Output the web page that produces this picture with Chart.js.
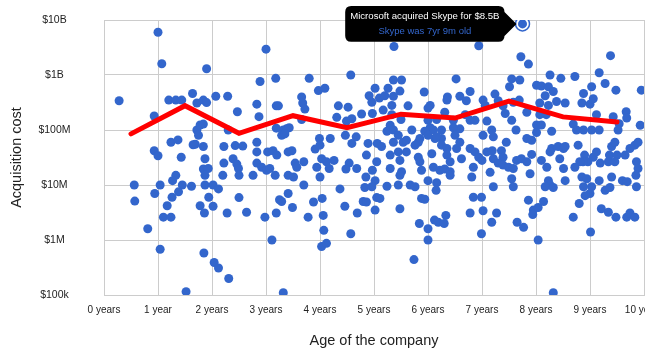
<!DOCTYPE html>
<html>
<head>
<meta charset="utf-8">
<title>Acquisition cost vs age of the company</title>
<script src="https://cdn.jsdelivr.net/npm/chart.js@4/dist/chart.umd.min.js"></script>
<style>
    html, body { margin: 0; padding: 0; background: #fff; }
    #wrap { width: 654px; height: 352px; }
    #chart { display: block; }
</style>
</head>
<body>
<div id="wrap"><canvas id="chart" width="645" height="352"></canvas></div>
<script>
// Acquisitions: age of the company (years) and price ($M), grouped by age band
const agesBand1 = [1.00, 1.07, 0.28, 1.20, 1.33, 1.44, 1.64, 0.93, 1.24, 1.37, 1.65, 0.93, 1.00, 1.43, 1.33, 1.27, 1.45, 1.62, 0.56, 1.04, 0.57, 0.94, 1.38, 1.26, 1.17, 1.10, 1.24, 0.81, 1.04, 1.52];
const costsBand1 = [6000, 1600, 340, 350, 350, 350, 460, 180, 60, 66, 54, 42, 34, 32, 15, 12, 10, 9.5, 10, 10, 5.1, 7, 7.5, 6, 4.2, 2.6, 2.6, 1.6, 0.68, 0.115];

const agesBand2 = [3.00, 1.90, 2.89, 3.18, 1.72, 1.84, 1.90, 2.07, 2.29, 2.47, 2.83, 2.87, 3.19, 3.23, 1.72, 1.78, 1.84, 1.75, 1.69, 1.84, 1.87, 1.84, 1.93, 1.87, 2.30, 2.22, 2.43, 2.57, 2.83, 2.83, 2.39, 2.46, 2.49, 2.50, 2.22, 2.20, 2.76, 2.83, 2.92, 3.01, 3.07, 3.17, 3.03, 3.13, 3.20, 1.87, 2.02, 2.12, 1.94, 1.78, 1.86, 2.02, 2.28, 2.50, 2.64, 2.98, 3.19, 3.25, 3.29, 3.11, 1.85, 2.04, 2.12, 2.31, 3.32, 3.19];
const costsBand2 = [2950, 1300, 760, 870, 310, 350, 315, 410, 410, 215, 295, 175, 275, 275, 100, 123, 128, 80, 55, 50, 30, 19.5, 20, 15, 100, 50, 52, 51, 60, 40, 30, 24, 20, 15, 25, 15, 15, 25, 21, 18.5, 20, 15, 40, 42, 35, 10, 10, 8.5, 6, 4.2, 3.1, 4.1, 3.1, 5.9, 3.2, 2.6, 3.1, 5.4, 5, 1.0, 0.58, 0.39, 0.31, 0.2, 0.11, 108];

const agesBand3 = [4.57, 3.80, 3.97, 4.09, 3.66, 3.68, 3.72, 3.66, 4.34, 4.52, 4.31, 4.49, 4.59, 4.77, 4.91, 4.96, 5.02, 4.97, 3.32, 3.38, 3.43, 3.29, 3.35, 3.41, 3.48, 3.54, 3.57, 3.70, 3.41, 3.51, 3.70, 3.41, 3.49, 3.78, 3.88, 4.04, 4.06, 4.07, 4.03, 4.12, 3.99, 3.91, 4.00, 3.94, 4.00, 4.03, 4.12, 4.17, 4.26, 4.19, 4.47, 4.59, 4.67, 4.54, 4.48, 4.68, 4.37, 4.46, 4.69, 4.57, 4.89, 4.86, 4.85, 4.83, 4.80, 4.86, 4.97, 5.02];
const costsBand3 = [1000, 870, 520, 575, 400, 310, 240, 155, 275, 260, 170, 145, 160, 195, 420, 320, 575, 200, 100, 105, 110, 80, 85, 40, 42, 25, 21, 26.5, 15, 14, 10, 7, 3.9, 2.6, 4.9, 5.7, 2.8, 1.5, 0.76, 0.87, 70, 45, 53, 21, 14, 30, 26.5, 20, 28, 70, 80, 57, 75, 25, 19.5, 20, 8.5, 4.1, 3.1, 1.3, 57, 35, 14, 9, 5, 4.9, 18.5, 3.5];

const agesBand4 = [5.37, 5.36, 5.51, 5.26, 5.48, 6.52, 5.93, 6.36, 6.35, 6.59, 6.04, 6.00, 5.63, 5.10, 5.20, 5.36, 5.33, 5.17, 5.33, 5.50, 6.16, 6.31, 6.47, 6.59, 6.47, 6.00, 6.04, 6.10, 5.94, 6.25, 6.25, 5.30, 5.24, 5.36, 5.70, 5.85, 5.82, 6.00, 6.13, 6.16, 5.06, 5.14, 5.36, 5.45, 5.54, 5.60, 5.76, 6.25, 6.35, 6.53, 6.59, 6.50, 5.30, 5.45, 5.60, 5.82, 5.85, 6.07, 6.35, 6.41, 5.48, 5.05, 5.30, 5.51, 5.48, 5.88, 6.10, 6.22, 6.31, 6.41, 6.41, 5.02, 4.96, 5.24, 5.45, 5.67, 5.76, 6.00, 6.16, 6.15, 5.88, 5.94, 5.05, 5.11, 5.48, 5.84, 6.12, 6.19, 6.30, 6.33, 6.00, 6.00, 5.74];
const costsBand4 = [3300, 810, 810, 575, 510, 850, 490, 400, 350, 410, 280, 250, 275, 380, 420, 410, 280, 230, 190, 155, 155, 210, 150, 105, 110, 150, 110, 100, 95, 100, 70, 122, 95, 100, 100, 70, 60, 80, 70, 75, 57, 50, 60, 80, 60, 65, 53, 53, 46, 46, 60, 80, 35, 40, 40, 32, 26.5, 37, 35, 26.5, 28, 26.5, 20, 17.5, 15, 18.5, 21, 18.5, 19.5, 17.5, 15, 12, 9.3, 9.5, 10, 10, 9.3, 12, 11, 8, 5.7, 5.5, 5.9, 5.7, 3.7, 2.0, 2.3, 2.1, 2.0, 2.8, 1.6, 1.0, 0.44];

const agesBand5 = [7.75, 6.94, 7.72, 7.86, 8.26, 7.55, 7.70, 7.51, 8.01, 8.10, 8.23, 8.17, 8.32, 6.78, 7.24, 6.71, 7.02, 7.06, 7.30, 7.39, 7.43, 7.58, 7.69, 7.83, 8.07, 8.23, 8.19, 8.07, 6.69, 6.78, 6.87, 7.09, 7.55, 7.63, 8.01, 8.10, 8.29, 8.01, 7.02, 7.18, 7.21, 7.45, 7.83, 7.92, 6.78, 6.87, 6.94, 7.00, 7.09, 7.19, 7.21, 7.36, 7.39, 7.30, 7.39, 7.49, 7.58, 7.64, 7.73, 7.83, 7.92, 7.89, 7.55, 7.58, 8.10, 8.20, 8.29, 8.26, 6.62, 6.84, 6.81, 7.15, 7.21, 8.23, 8.26, 8.17, 8.32, 6.84, 6.99, 6.78, 7.02, 7.27, 7.18, 7.86, 7.95, 8.04, 7.94, 8.14, 7.65, 7.77, 6.99, 8.04, 8.32];
const costsBand5 = [8500, 3400, 2150, 1580, 1000, 850, 810, 610, 650, 630, 610, 420, 500, 500, 450, 340, 350, 280, 340, 275, 200, 320, 350, 210, 310, 280, 190, 190, 190, 150, 150, 145, 150, 100, 123, 123, 95, 90, 80, 100, 75, 60, 70, 65, 46, 40, 32, 28, 40, 42, 30, 42, 32, 25, 23, 21, 20, 28, 30, 26.5, 36, 16, 13, 9.3, 28, 21, 46, 40, 30, 21, 14, 17, 9.3, 12, 10, 9.3, 9, 6, 6, 3.1, 3.4, 3.1, 2.1, 5.3, 3.5, 3.9, 2.9, 5, 2.1, 1.7, 1.3, 1.0, 0.11];

const agesBand6 = [9.38, 9.17, 9.28, 8.46, 8.72, 9.95, 9.48, 9.03, 8.88, 8.38, 8.54, 8.85, 9.00, 9.06, 9.67, 9.68, 9.43, 9.12, 9.93, 9.54, 9.52, 8.69, 8.75, 8.88, 9.03, 9.17, 8.41, 8.51, 8.54, 8.44, 8.78, 9.40, 9.46, 9.36, 9.50, 9.65, 9.74, 9.83, 9.89, 8.90, 8.96, 9.06, 9.12, 8.87, 9.19, 8.81, 9.34, 9.46, 9.86, 9.89, 8.72, 8.51, 8.54, 8.85, 8.94, 8.88, 9.03, 9.00, 8.91, 9.17, 9.28, 9.37, 9.40, 9.60, 9.69, 9.85, 9.86, 8.80, 8.69, 9.21, 9.34, 9.48, 9.68, 9.74, 9.83, 9.01];
const costsBand6 = [2250, 1100, 700, 870, 940, 530, 530, 610, 460, 330, 310, 310, 295, 370, 215, 165, 175, 190, 122, 130, 100, 128, 100, 100, 100, 100, 50, 46, 50, 30, 53, 50, 60, 35, 35, 35, 46, 53, 60, 35, 26.5, 32, 40, 26.5, 25, 26.5, 26.5, 26.5, 26.5, 20, 21, 20, 12, 14, 13, 9.3, 9.3, 7, 6.4, 12, 8, 9, 14, 12, 11.5, 15, 9.3, 4.6, 2.6, 3.7, 3.2, 2.6, 2.6, 3.1, 2.6, 1.4];

// Average price per half-year bucket ($M)
const trendAges = [0.5, 1.5, 2.5, 3.5, 4.5, 5.5, 6.5, 7.5, 8.5, 9.5];
const trendCosts = [85, 277, 87, 182, 110, 194, 165, 335, 173, 140];

// Axis ticks
const yTickValues = [1e5, 1e6, 1e7, 1e8, 1e9, 1e10];
const yTickLabels = ['$100k', '$1M', '$10M', '$100M', '$1B', '$10B'];
const xTickLabels = ['0 years', '1 year', '2 years', '3 years', '4 years', '5 years', '6 years', '7 years', '8 years', '9 years', '10 years'];

// Highlighted deal
const highlightAge = 7.75;
const highlightCost = 8500;
const highlightTitle = 'Microsoft acquired Skype for $8.5B';
const highlightLabel = 'Skype was 7yr 9m old';

const FONT = 'Arial, "Liberation Sans", sans-serif';
const BLUE = '#3366cc';
const GRID = '#cccccc';
const TEXT = '#222222';

// Build {x, y} points in dollars
function toPoints(ages, costs) {
    return ages.map((a, i) => ({ x: a, y: costs[i] * 1e6 }));
}

const allAges = [].concat(agesBand1, agesBand2, agesBand3, agesBand4, agesBand5, agesBand6);
const allCosts = [].concat(costsBand1, costsBand2, costsBand3, costsBand4, costsBand5, costsBand6);

Chart.defaults.font.family = FONT;
Chart.defaults.color = TEXT;

const ctx = document.getElementById('chart');
const chart = new Chart(ctx.getContext('2d'), {
    type: 'scatter',
    data: {
        datasets: [{
            type: 'line',
            label: 'Average',
            data: toPoints(trendAges, trendCosts),
            borderColor: '#ff0000',
            borderWidth: 5,
            borderCapStyle: 'round',
            borderJoinStyle: 'miter',
            pointRadius: 0,
            fill: false,
            tension: 0,
            order: 0
        }, {
            label: 'Acquisitions',
            data: toPoints(allAges, allCosts),
            backgroundColor: BLUE,
            borderWidth: 0,
            pointRadius: 4.5,
            order: 1
        }, {
            label: 'Highlight',
            data: [{ x: highlightAge, y: highlightCost * 1e6 }],
            backgroundColor: '#ffffff',
            borderColor: BLUE,
            borderWidth: 1.5,
            pointRadius: 7,
            order: 2
        }]
    },
    options: {
        responsive: false,
        animation: false,
        events: [],
        layout: {
            autoPadding: false,
            padding: { left: 0, right: 1, top: 20, bottom: 0 }
        },
        plugins: {
            legend: { display: false },
            tooltip: {
                enabled: true,
                xAlign: 'right',
                yAlign: 'center',
                backgroundColor: '#000000',
                cornerRadius: 6,
                caretSize: 12,
                caretPadding: 6,
                padding: { top: 5, bottom: 5, left: 5, right: 5 },
                titleFont: { family: FONT, size: 9.6, weight: 'normal' },
                titleColor: '#ffffff',
                titleAlign: 'center',
                titleMarginBottom: 3,
                bodyFont: { family: FONT, size: 9.5 },
                bodyColor: '#3366cc',
                bodyAlign: 'center',
                displayColors: false,
                callbacks: {
                    title: () => highlightTitle,
                    label: () => highlightLabel
                }
            }
        },
        scales: {
            x: {
                type: 'linear',
                min: 0,
                max: 10,
                ticks: {
                    stepSize: 1,
                    autoSkip: false,
                    maxRotation: 0,
                    padding: 9,
                    color: TEXT,
                    font: { size: 10 },
                    callback: (v) => xTickLabels[Math.round(v)]
                },
                grid: { color: GRID, lineWidth: 1, drawTicks: false },
                border: { color: GRID, width: 1 },
                title: {
                    display: true,
                    text: 'Age of the company',
                    color: TEXT,
                    font: { size: 14.5 },
                    padding: { top: 0, bottom: 2 }
                },
                afterFit: (scale) => {
                    scale.height = 57;
                    scale.paddingLeft = 0;
                    scale.paddingRight = 0;
                }
            },
            y: {
                type: 'logarithmic',
                min: 1e5,
                max: 1e10,
                afterBuildTicks: (scale) => {
                    scale.ticks = yTickValues.map(v => ({ value: v }));
                },
                ticks: {
                    crossAlign: 'center',
                    padding: 33.5,
                    color: TEXT,
                    font: { size: 10.5 },
                    callback: (v) => {
                        const i = yTickValues.indexOf(v);
                        return i >= 0 ? yTickLabels[i] : '';
                    }
                },
                grid: { color: GRID, lineWidth: 1, drawTicks: false },
                border: { color: GRID, width: 1 },
                title: {
                    display: true,
                    text: 'Acquisition cost',
                    color: TEXT,
                    font: { size: 14.5 },
                    padding: { top: 8.3, bottom: 0 }
                },
                afterFit: (scale) => {
                    scale.width = 104;
                    scale.paddingTop = 0;
                    scale.paddingBottom = 0;
                }
            }
        }
    }
});

// Show the Skype deal tooltip
chart.tooltip.setActiveElements([{ datasetIndex: 2, index: 0 }], { x: 0, y: 0 });
chart.update();
</script>
</body>
</html>
